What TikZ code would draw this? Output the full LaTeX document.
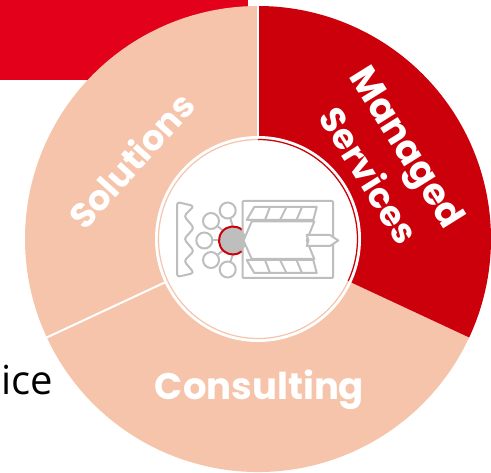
\documentclass[tikz,border=0pt]{standalone}
\usepackage{fontspec}
\setmainfont{Poppins}
\newfontfamily\plainfont{Open Sans}
\definecolor{bannerred}{HTML}{E2001A}
\definecolor{sectorred}{HTML}{CC000B}
\definecolor{sectorpink}{HTML}{F5C4AB}
\definecolor{icongrey}{HTML}{BEBEBE}
\tikzset{
  sectorlabel/.style={text=white, font=\bfseries\fontsize{#1}{#1}\selectfont, inner sep=0pt, align=center},
  iconline/.style={draw=icongrey, line width=2pt, line join=round},
  iconball/.style={circle, draw=icongrey, line width=2pt, fill=white, minimum size=16pt, inner sep=0pt},
}

\begin{document}
\begin{tikzpicture}[x=1pt,y=-1pt]
    \useasboundingbox (0,0) rectangle (491,473);
    \coordinate (c) at (258,239);

    % banner and sectors
    \fill[bannerred] (0,0) rectangle (248,80);
    \fill[sectorpink] (c) -- ++(90:233pt) arc[start angle=90,end angle=205,radius=233pt] -- cycle;
    \fill[sectorpink] (c) -- ++(205:233pt) arc[start angle=205,end angle=335,radius=233pt] -- cycle;
    \fill[sectorred] (c) -- ++(90:233pt) arc[start angle=90,end angle=-25,radius=233pt] -- cycle;
    \draw[white, line width=2pt] (c) -- ++(90:234pt);
    \draw[white, line width=2pt] (c) -- ++(205:234pt);

    % hub
    \fill[white] (c) circle[radius=103pt];
    \draw[sectorpink, line width=1.2pt] (c) circle[radius=99.5pt];
    \draw[sectorred, line width=1.2pt] (c) ++(90:99.5pt) arc[start angle=90,end angle=-25,radius=99.5pt];

    % icon
    \node[iconball] (b1) at (227.7,210.5) {};
    \node[iconball] (b2) at (211,221) {};
    \node[iconball] (b3) at (204.3,240.5) {};
    \node[iconball] (b4) at (211,260) {};
    \node[iconball] (b5) at (227.7,269.5) {};
    \node[circle, fill=icongrey, minimum size=27pt, inner sep=0pt] (hub) at (233,240.5) {};
    \draw[iconline] (b1) -- (hub.north);
    \draw[iconline] (b2) -- (hub.north west);
    \draw[iconline] (b3) -- (hub.west);
    \draw[iconline] (b4) -- (hub.south west);
    \draw[iconline] (b5) -- (hub.south);
    \draw[sectorred, line width=2pt] (hub) ++(50:14pt) arc[start angle=50,end angle=310,radius=14pt];
    \draw[iconline, rounded corners=3pt] (177,202) -- (194,206) -- (184,216) -- (194,228) -- (184,239)
      -- (194,251) -- (184,261) -- (194,273) -- (177,277) -- cycle;
    \draw[iconline, rounded corners=1pt] (242.5,201) rectangle (333,278);
    \draw[iconline] (254.3,207) -- (316.7,207) -- (313.3,220) -- (246.7,220) -- cycle;
    \draw[iconline] (254.3,273) -- (316.7,273) -- (313.3,260) -- (246.7,260) -- cycle;
    \foreach \xa/\xb in {270/265,286.5/280,302/296.5} {
      \draw[iconline] (\xa,207) -- (\xb,220);
      \draw[iconline] (\xa,273) -- (\xb,260);
    }
    \draw[iconline, fill=white] (243.5,240.5) -- (251.7,221.5) -- (314.3,221.5) -- (306.7,240.5)
      -- (314.3,259) -- (251.7,259) -- cycle;
    \draw[iconline, fill=white] (306.7,235) -- (330,235) -- (338.3,240.5) -- (330,246) -- (306.7,246) -- (308.5,240.5) -- cycle;

    % labels
    \node[sectorlabel=35, rotate=48] (solutions) at (131,160) {Solutions};
    \node[sectorlabel=37, rotate=-58] (managed) at (404,149) {Managed};
    \node[sectorlabel=35, rotate=-58] (services) at (370,175) {Services};
    \node[sectorlabel=37] (consulting) at (259.5,390) {Consulting};
    \node[anchor=base east, inner sep=0pt, font=\plainfont\fontsize{40}{40}\selectfont] (ice) at (53,395) {ice};
\end{tikzpicture}
\end{document}
